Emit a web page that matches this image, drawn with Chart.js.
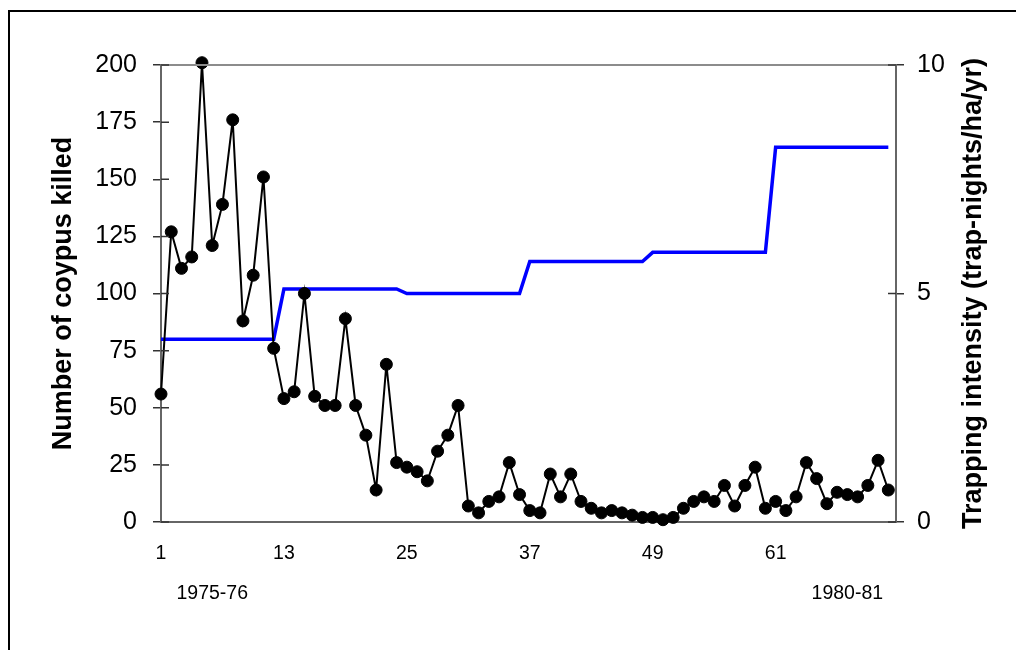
<!DOCTYPE html>
<html>
<head>
<meta charset="utf-8">
<title>Coypus killed and trapping intensity</title>
<script src="https://cdn.jsdelivr.net/npm/chart.js@4"></script>
<style>
  body{margin:0;background:#fff;}
  canvas{display:block;}
</style>
</head>
<body>
<canvas id="coypu-canvas" width="1016" height="650"></canvas>
<script>
// number of coypus killed each month (1975-76 .. 1980-81)
const killed=[56,127,111,116,201,121,139,176,88,108,
    151,76,54,57,100,55,51,51,89,51,
    38,14,69,26,24,22,18,31,38,51,
    7,4,9,11,26,12,5,4,21,11,
    21,9,6,4,5,4,3,2,2,1,
    2,6,9,11,9,16,7,16,24,6,
    9,5,11,26,19,8,13,12,11,16,
    27,14]
// trapping intensity, trap-nights/ha/yr
const intensity=[4.0,4.0,4.0,4.0,4.0,4.0,4.0,4.0,4.0,4.0,4.0,4.0,
    5.1,5.1,5.1,5.1,5.1,5.1,5.1,5.1,5.1,5.1,5.1,5.1,
    5.0,5.0,5.0,5.0,5.0,5.0,5.0,5.0,5.0,5.0,5.0,5.0,
    5.7,5.7,5.7,5.7,5.7,5.7,5.7,5.7,5.7,5.7,5.7,5.7,
    5.9,5.9,5.9,5.9,5.9,5.9,5.9,5.9,5.9,5.9,5.9,5.9,
    8.2,8.2,8.2,8.2,8.2,8.2,8.2,8.2,8.2,8.2,8.2,8.2]
const months=killed.map((v,i)=>i+1)
const monthTicks=[1,6,13,25,37,49,61,68]
const seasonLabels={6:'1975-76',68:'1980-81'}
const leftTitle='Number of coypus killed'
const rightTitle='Trapping intensity (trap-nights/ha/yr)'

const FONT='"Liberation Sans", Arial, sans-serif'

//extra bits excel draws: outer frame, top of plot box, inner half of the ticks, right title
const decor={
  id:'decor',
  afterDraw(chart){
    const ctx=chart.ctx
    const a=chart.chartArea
    ctx.save()
    ctx.strokeStyle='#000'
    ctx.lineWidth=2
    ctx.beginPath()
    ctx.moveTo(9,650)
    ctx.lineTo(9,11)
    ctx.lineTo(1016,11)
    ctx.stroke()

    ctx.strokeStyle='#8c8c8c'
    ctx.beginPath()
    ctx.moveTo(a.left,a.top)
    ctx.lineTo(a.right,a.top)
    ctx.stroke()

    ctx.strokeStyle='#333'
    ctx.lineWidth=1.5
    ctx.beginPath()
    chart.scales.y.ticks.forEach(t=>{
      const p=chart.scales.y.getPixelForValue(t.value)
      ctx.moveTo(a.left,p);ctx.lineTo(a.left+8,p)
    })
    chart.scales.y1.ticks.forEach(t=>{
      const p=chart.scales.y1.getPixelForValue(t.value)
      ctx.moveTo(a.right,p);ctx.lineTo(a.right-8,p)
    })
    ctx.stroke()

    ctx.translate(a.right+78,(a.top+a.bottom)/2)
    ctx.rotate(-Math.PI/2)
    ctx.fillStyle='#000'
    ctx.font='bold 27px '+FONT
    ctx.textAlign='center'
    ctx.textBaseline='middle'
    ctx.fillText(rightTitle,0,0)
    ctx.restore()
  }
}

new Chart(document.getElementById('coypu-canvas'),{
  type:'line',
  data:{
    datasets:[
      {
        label:'Coypus killed',
        data:months.map((m,i)=>({x:m,y:killed[i]})),
        yAxisID:'y',
        borderColor:'#000',
        borderWidth:2,
        backgroundColor:'#000',
        pointBackgroundColor:'#000',
        pointBorderColor:'#000',
        pointRadius:6,
        pointBorderWidth:1,
        tension:0,
        clip:false
      },
      {
        label:'Trapping intensity',
        data:months.map((m,i)=>({x:m,y:intensity[i]})),
        yAxisID:'y1',
        borderColor:'#0000ff',
        borderWidth:3.5,
        pointRadius:0,
        tension:0
      }
    ]
  },
  options:{
    responsive:false,
    animation:false,
    devicePixelRatio:1,
    layout:{padding:{top:65,left:0,right:0,bottom:0}},
    plugins:{
      legend:{display:false},
      tooltip:{enabled:false}
    },
    scales:{
      x:{
        type:'linear',
        min:1,
        max:72.75,
        grid:{display:false,drawTicks:false},
        border:{display:true,color:'#666',width:2},
        afterBuildTicks:s=>{s.ticks=monthTicks.map(v=>({value:v}))},
        afterFit:s=>{s.height=128},
        ticks:{
          autoSkip:false,
          maxRotation:0,
          padding:12,
          color:'#000',
          font:{family:FONT,size:19.5,lineHeight:2.03},
          callback:v=>seasonLabels[v]?['',seasonLabels[v]]:String(v)
        }
      },
      y:{
        position:'left',
        min:0,
        max:200,
        afterFit:s=>{s.width=161},
        grid:{drawOnChartArea:false,drawTicks:true,tickLength:8,color:'#333',lineWidth:1.5},
        border:{display:true,color:'#666',width:2},
        ticks:{stepSize:25,padding:16,color:'#000',font:{family:FONT,size:25}},
        title:{display:true,text:leftTitle,color:'#000',padding:{top:47,bottom:0},font:{family:FONT,size:27,weight:'bold'}}
      },
      y1:{
        position:'right',
        min:0,
        max:10,
        afterFit:s=>{s.width=120},
        grid:{drawOnChartArea:false,drawTicks:true,tickLength:8,color:'#333',lineWidth:1.5},
        border:{display:true,color:'#666',width:2},
        ticks:{stepSize:5,padding:13,color:'#000',font:{family:FONT,size:25}}
      }
    }
  },
  plugins:[decor]
})
</script>
</body>
</html>
